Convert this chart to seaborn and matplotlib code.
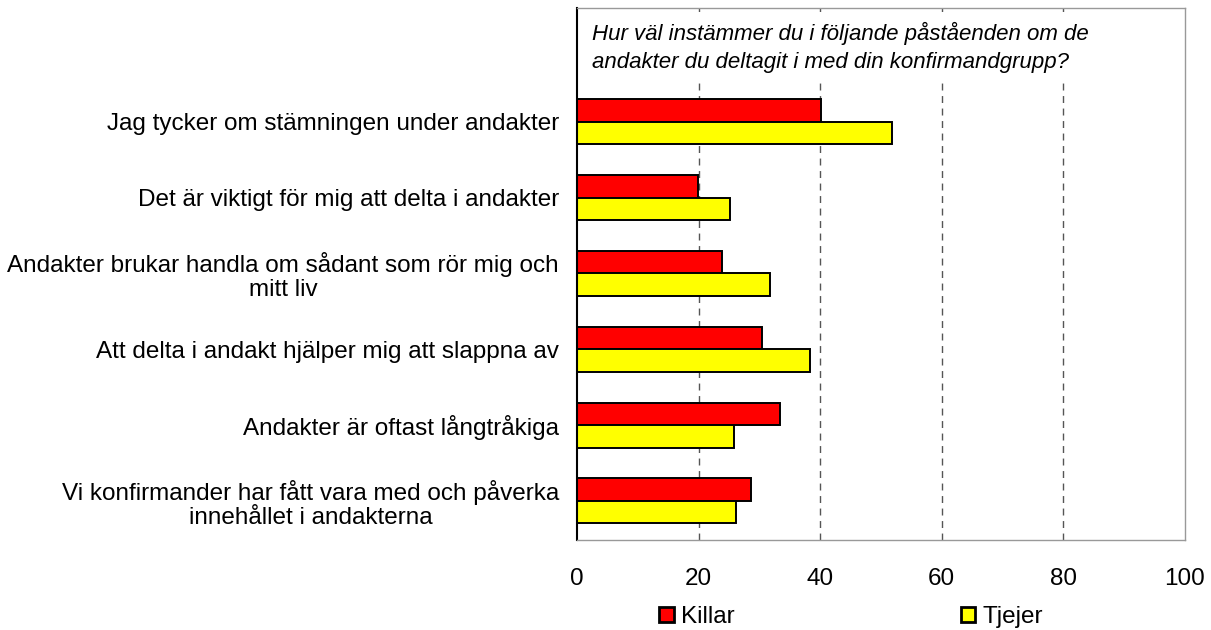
import matplotlib
matplotlib.use("Agg")
import matplotlib.pyplot as plt
import seaborn as sns
import pandas as pd
from matplotlib.patches import Patch

categories = [
    "Jag tycker om stämningen under andakter",
    "Det är viktigt för mig att delta i andakter",
    "Andakter brukar handla om sådant som rör mig och\nmitt liv",
    "Att delta i andakt hjälper mig att slappna av",
    "Andakter är oftast långtråkiga",
    "Vi konfirmander har fått vara med och påverka\ninnehållet i andakterna",
]
killar = [40.1, 19.9, 23.9, 30.4, 33.4, 28.6]
tjejer = [51.8, 25.1, 31.7, 38.3, 25.8, 26.2]
series = ["Killar", "Tjejer"]
colors = ["#FF0000", "#FFFF00"]
title = "Hur väl instämmer du i följande påståenden om de\nandakter du deltagit i med din konfirmandgrupp?"
xticks = [0, 20, 40, 60, 80, 100]

df = pd.DataFrame({
    "kategori": categories * 2,
    "grupp": [series[0]] * len(categories) + [series[1]] * len(categories),
    "varde": killar + tjejer,
})

sns.set_style("white")
plt.rcParams["font.family"] = ["Liberation Sans", "DejaVu Sans"]
plt.rcParams["text.color"] = "black"
plt.rcParams["xtick.color"] = "black"
plt.rcParams["ytick.color"] = "black"

FS = 17.5

fig = plt.figure(figsize=(12.11, 6.3), dpi=100)
ax = fig.add_axes([577 / 1211, 1 - 540 / 630, (1185 - 577) / 1211, (540 - 8) / 630])

sns.barplot(data=df, y="kategori", x="varde", hue="grupp", order=categories,
            hue_order=series, palette=colors, orient="h", width=0.594,
            edgecolor="black", linewidth=1.4, saturation=1, ax=ax, legend=False)

ax.set_xlim(0, 100)
ax.set_ylim(5.515, -1.5)
ax.set_xticks(xticks)
ax.set_xticklabels([str(t) for t in xticks], fontsize=FS, color="black")
ax.set_xlabel("")
ax.set_ylabel("")
for lbl in ax.get_yticklabels():
    lbl.set_fontsize(FS)
    lbl.set_color("black")
    lbl.set_multialignment("center")
    lbl.set_linespacing(1.1)
ax.tick_params(axis="y", length=0, pad=13)
ax.tick_params(axis="x", length=5, width=1, color="#999999", direction="out", pad=15)

for x in xticks[1:-1]:
    ax.axvline(x, color="#555555", linewidth=1, linestyle=(0, (5, 4)), zorder=0)

for side in ["top", "right", "bottom"]:
    ax.spines[side].set_color("#999999")
    ax.spines[side].set_linewidth(1)
ax.spines["left"].set_color("black")
ax.spines["left"].set_linewidth(1.5)

fig.text(592 / 1211, 1 - 22 / 630, title, fontsize=16, style="italic",
         ha="left", va="top", linespacing=1.45, color="black",
         bbox=dict(boxstyle="square,pad=0.45", facecolor="white", edgecolor="none"))

handles = [Patch(facecolor=c, edgecolor="black", linewidth=2) for c in colors]
fig.legend(handles, series, loc="center", bbox_to_anchor=(851 / 1211, 1 - 617 / 630),
           ncol=2, frameon=False, fontsize=FS, handlelength=0.6, handleheight=0.6,
           handletextpad=0.3, columnspacing=9.3, borderaxespad=0)

fig.savefig("out.png", dpi=100, facecolor="white")
